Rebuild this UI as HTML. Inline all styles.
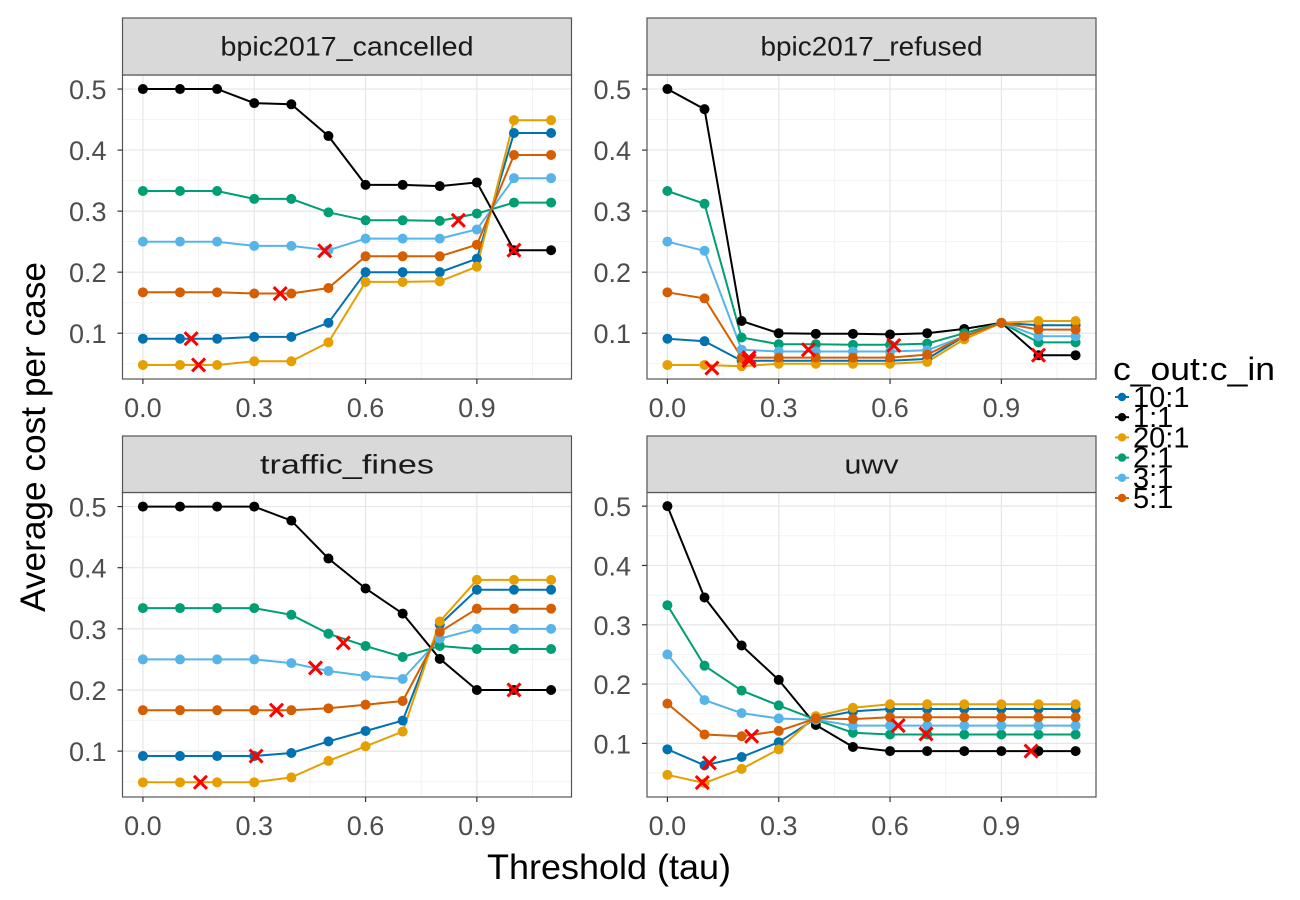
<!DOCTYPE html>
<html><head><meta charset="utf-8">
<style>
html,body{margin:0;padding:0;background:#fff;}
svg{display:block;font-family:"Liberation Sans",sans-serif;}
</style></head>
<body>
<svg id="chart" width="1300" height="900" viewBox="0 0 1300 900"></svg>
<script>
const taus = [0,0.1,0.2,0.3,0.4,0.5,0.6,0.7,0.8,0.9,1.0,1.1];
const seriesNames = ["10:1","1:1","20:1","2:1","3:1","5:1"];
const seriesColors = ["#0072B2","#000000","#E69F00","#009E73","#56B4E9","#D55E00"];
const panelTitles = ["bpic2017_cancelled","bpic2017_refused","traffic_fines","uwv"];
const xTicks = [0,0.3,0.6,0.9];
const xTickLabels = ["0.0","0.3","0.6","0.9"];
const yTicks = [0.1,0.2,0.3,0.4,0.5];
const yTickLabels = ["0.1","0.2","0.3","0.4","0.5"];
const yDomains = [[0.025,0.523],[0.025,0.523],[0.025,0.523],[0.0096,0.523]];

// bpic2017_cancelled
const cancelled10 = [0.091,0.091,0.091,0.094,0.094,0.117,0.2,0.2,0.2,0.222,0.428,0.428];
const cancelled1  = [0.5,0.5,0.5,0.477,0.475,0.423,0.343,0.343,0.341,0.347,0.236,0.236];
const cancelled20 = [0.048,0.048,0.048,0.054,0.054,0.085,0.184,0.184,0.185,0.209,0.449,0.449];
const cancelled2  = [0.333,0.333,0.333,0.32,0.32,0.298,0.285,0.285,0.284,0.296,0.314,0.314];
const cancelled3  = [0.25,0.25,0.25,0.243,0.243,0.236,0.255,0.255,0.255,0.27,0.354,0.354];
const cancelled5  = [0.167,0.167,0.167,0.165,0.165,0.174,0.226,0.226,0.226,0.245,0.392,0.392];
const cancelledOptTau  = [0.13,0.15,0.37,0.49,0.85,1.0];
const cancelledOptCost = [0.091,0.048,0.165,0.235,0.285,0.236];
// bpic2017_refused
const refused10 = [0.091,0.087,0.055,0.055,0.055,0.055,0.055,0.058,0.095,0.117,0.113,0.113];
const refused1  = [0.5,0.467,0.12,0.1,0.099,0.099,0.098,0.1,0.107,0.117,0.064,0.064];
const refused20 = [0.048,0.048,0.046,0.05,0.05,0.05,0.05,0.053,0.09,0.117,0.12,0.12];
const refused2  = [0.333,0.312,0.093,0.082,0.082,0.081,0.081,0.083,0.1,0.117,0.085,0.085];
const refused3  = [0.25,0.235,0.073,0.07,0.07,0.07,0.07,0.072,0.095,0.117,0.095,0.095];
const refused5  = [0.167,0.157,0.06,0.06,0.06,0.06,0.06,0.065,0.095,0.117,0.106,0.106];
const refusedOptTau  = [0.12,0.22,0.22,0.38,0.61,1.0];
const refusedOptCost = [0.043,0.055,0.06,0.073,0.08,0.064];
// traffic_fines
const traffic10 = [0.092,0.092,0.092,0.092,0.097,0.116,0.133,0.15,0.307,0.364,0.364,0.364];
const traffic1  = [0.5,0.5,0.5,0.5,0.477,0.415,0.366,0.325,0.251,0.2,0.2,0.2];
const traffic20 = [0.049,0.049,0.049,0.049,0.057,0.084,0.108,0.132,0.312,0.38,0.38,0.38];
const traffic2  = [0.334,0.334,0.334,0.334,0.323,0.292,0.272,0.254,0.272,0.267,0.267,0.267];
const traffic3  = [0.25,0.25,0.25,0.25,0.244,0.231,0.223,0.218,0.284,0.3,0.3,0.3];
const traffic5  = [0.167,0.167,0.167,0.167,0.167,0.17,0.176,0.182,0.295,0.333,0.333,0.333];
const trafficOptTau  = [0.155,0.305,0.36,0.465,0.54,1.0];
const trafficOptCost = [0.049,0.092,0.167,0.236,0.277,0.2];
// uwv
const uwv10 = [0.09,0.063,0.077,0.102,0.142,0.154,0.158,0.158,0.158,0.158,0.158,0.158];
const uwv1  = [0.5,0.346,0.265,0.207,0.131,0.094,0.087,0.087,0.087,0.087,0.087,0.087];
const uwv20 = [0.047,0.033,0.057,0.09,0.146,0.16,0.166,0.166,0.166,0.166,0.166,0.166];
const uwv2  = [0.333,0.231,0.189,0.164,0.14,0.118,0.115,0.115,0.115,0.115,0.115,0.115];
const uwv3  = [0.25,0.173,0.151,0.142,0.14,0.13,0.13,0.13,0.13,0.13,0.13,0.13];
const uwv5  = [0.167,0.115,0.112,0.121,0.142,0.141,0.144,0.144,0.144,0.144,0.144,0.144];
const uwvOptTau  = [0.113,0.094,0.227,0.622,0.697,0.98];
const uwvOptCost = [0.067,0.034,0.112,0.13,0.116,0.087];

const panelSeries = [
  [cancelled10,cancelled1,cancelled20,cancelled2,cancelled3,cancelled5],
  [refused10,refused1,refused20,refused2,refused3,refused5],
  [traffic10,traffic1,traffic20,traffic2,traffic3,traffic5],
  [uwv10,uwv1,uwv20,uwv2,uwv3,uwv5]
];
const panelOptTau = [cancelledOptTau,refusedOptTau,trafficOptTau,uwvOptTau];
const panelOptCost = [cancelledOptCost,refusedOptCost,trafficOptCost,uwvOptCost];

const NS = "http://www.w3.org/2000/svg";
const svg = document.getElementById("chart");
function mk(tag, attrs, parent){
  const e = document.createElementNS(NS, tag);
  for (const k in attrs) e.setAttribute(k, attrs[k]);
  (parent||svg).appendChild(e);
  return e;
}
const panelBoxes = [
  {x0:122.5,x1:571.5,sTop:18,top:75,bottom:379},
  {x0:647,x1:1096,sTop:18,top:75,bottom:379},
  {x0:122.5,x1:571.5,sTop:436,top:492.5,bottom:797},
  {x0:647,x1:1096,sTop:436,top:492.5,bottom:797}
];
const stripWidths = [253,222,174,54];
const xMin=-0.055, xMax=1.155;

panelBoxes.forEach((b,pi)=>{
  const g = mk("g",{});
  
  
  const xs = v => b.x0 + (v-xMin)/(xMax-xMin)*(b.x1-b.x0);
  const [d0,d1] = yDomains[pi];
  const ys = v => b.bottom - (v-d0)/(d1-d0)*(b.bottom-b.top);
  mk("rect",{x:b.x0,y:b.top,width:b.x1-b.x0,height:b.bottom-b.top,fill:"#fff"},g);
  for (let i=0;i<xTicks.length;i++){
    const v = xTicks[i]+0.15;
    if (v<xMax) mk("line",{x1:xs(v),x2:xs(v),y1:b.top,y2:b.bottom,stroke:"#f3f3f3","stroke-width":1},g);
  }
  for (let i=0;i<yTicks.length;i++){
    const v = yTicks[i]-0.05;
    if (v>d0) mk("line",{x1:b.x0,x2:b.x1,y1:ys(v),y2:ys(v),stroke:"#f3f3f3","stroke-width":1},g);
  }
  xTicks.forEach(v=>mk("line",{x1:xs(v),x2:xs(v),y1:b.top,y2:b.bottom,stroke:"#e6e6e6","stroke-width":1.2},g));
  yTicks.forEach(v=>mk("line",{x1:b.x0,x2:b.x1,y1:ys(v),y2:ys(v),stroke:"#e6e6e6","stroke-width":1.2},g));
  panelSeries[pi].forEach((arr,si)=>{
    const pts = arr.map((v,i)=>xs(taus[i]).toFixed(1)+","+ys(v).toFixed(1)).join(" ");
    const pl = mk("polyline",{points:pts,fill:"none",stroke:seriesColors[si],"stroke-width":2},g);
    
    
  });
  panelSeries[pi].forEach((arr,si)=>{
    arr.forEach((v,i)=>{
      const c = mk("circle",{cx:xs(taus[i]),cy:ys(v),r:5,fill:seriesColors[si]},g);
      
      
    });
  });
  panelOptTau[pi].forEach((t,i)=>{
    const cx=xs(t), cy=ys(panelOptCost[pi][i]), s=6.5;
    const m = mk("path",{d:`M${cx-s},${cy-s}L${cx+s},${cy+s}M${cx-s},${cy+s}L${cx+s},${cy-s}`,stroke:"#ff0000","stroke-width":3},g);
    
    
  });
  mk("rect",{x:b.x0,y:b.top,width:b.x1-b.x0,height:b.bottom-b.top,fill:"none",stroke:"#555","stroke-width":1.2},g);
  const st = mk("rect",{x:b.x0,y:b.sTop,width:b.x1-b.x0,height:b.top-b.sTop,fill:"#d9d9d9",stroke:"#555","stroke-width":1.2},g);
  
  
  const stt = mk("text",{x:(b.x0+b.x1)/2,y:(b.sTop+b.top)/2+9,"text-anchor":"middle","font-size":27,fill:"#1a1a1a",textLength:stripWidths[pi],lengthAdjust:"spacingAndGlyphs"},g);
  stt.textContent = panelTitles[pi];
  
  
  xTicks.forEach((v,i)=>{
    mk("line",{x1:xs(v),x2:xs(v),y1:b.bottom,y2:b.bottom+5,stroke:"#333","stroke-width":1.2},g);
    const t = mk("text",{x:xs(v),y:b.bottom+38,"text-anchor":"middle","font-size":27,fill:"#4d4d4d"},g);
    t.textContent = xTickLabels[i];
    
    
  });
  yTicks.forEach((v,i)=>{
    mk("line",{x1:b.x0-5,x2:b.x0,y1:ys(v),y2:ys(v),stroke:"#333","stroke-width":1.2},g);
    const t = mk("text",{x:b.x0-16,y:ys(v)+10,"text-anchor":"end","font-size":27,fill:"#4d4d4d"},g);
    t.textContent = yTickLabels[i];
    
    
  });
});

const xt = mk("text",{x:609,y:879,"text-anchor":"middle","font-size":35,fill:"#000",textLength:244,lengthAdjust:"spacingAndGlyphs"});
xt.textContent = "Threshold (tau)";


const yt = mk("text",{x:0,y:0,"text-anchor":"middle","font-size":35,fill:"#000",textLength:350,lengthAdjust:"spacingAndGlyphs",transform:"translate(45,437) rotate(-90)"});
yt.textContent = "Average cost per case";



const lg = mk("g",{});


const ltitle = mk("text",{x:1113,y:380,"font-size":32,fill:"#000",textLength:162,lengthAdjust:"spacingAndGlyphs"},lg);
ltitle.textContent = "c_out:c_in";


seriesNames.forEach((n,i)=>{
  const y = 397 + i*20.2;
  const e = mk("g",{},lg);
  
  
  mk("line",{x1:1115,x2:1129,y1:y,y2:y,stroke:seriesColors[i],"stroke-width":2},e);
  mk("circle",{cx:1122,cy:y,r:4.2,fill:seriesColors[i]},e);
  const t = mk("text",{x:1133,y:y+10,"font-size":29,fill:"#000"},e);
  t.textContent = n;
});
</script>
</body></html>
